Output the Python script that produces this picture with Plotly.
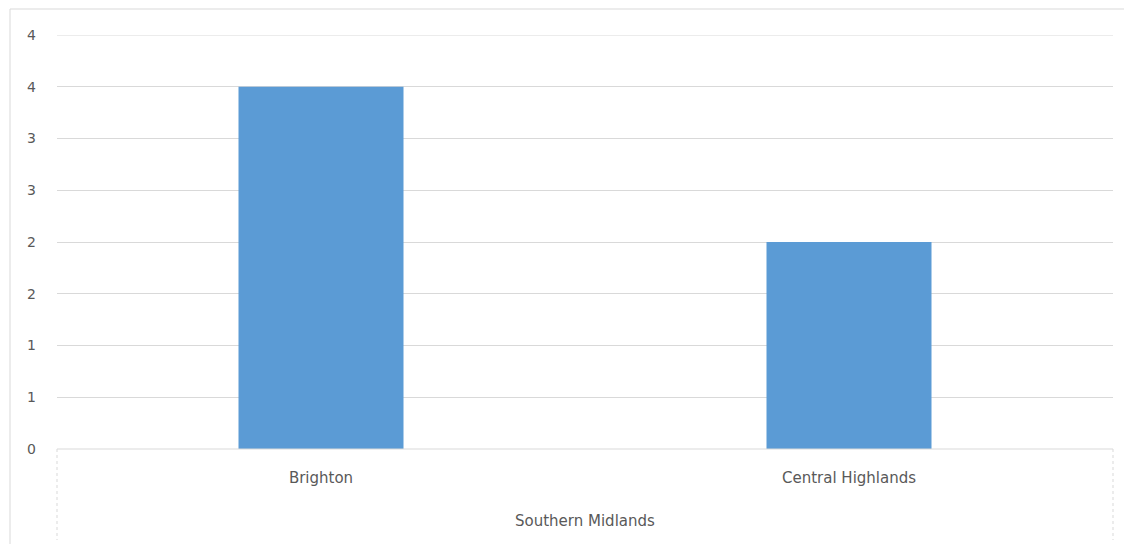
import plotly.graph_objects as go

group_label = "Southern Midlands"
categories = ["Brighton", "Central Highlands"]
values = [3.5, 2.0]
y_tickvals = [0, 0.5, 1, 1.5, 2, 2.5, 3, 3.5, 4]
y_ticktext = ["0", "1", "1", "2", "2", "3", "3", "4", "4"]

OFF = 8  # default page margin
W, H = 1132 - OFF, 544 - OFF
L, T = 57 - OFF, 35 - OFF
R = W - (1113 - OFF)
B = H - (449 - OFF)
pw, ph = W - L - R, H - T - B

def px(xp):
    return (xp - OFF - L) / pw

def py(yp):
    return (H - B - (yp - OFF)) / ph

fig = go.Figure()
fig.add_trace(go.Bar(
    x=categories, y=values,
    marker=dict(color="#5b9bd5", line=dict(width=0)),
    width=0.3125,
))

grey = "#d9d9d9"
font_family = "DejaVu Sans, Verdana, sans-serif"
shapes = [
    dict(type="line", xref="paper", yref="paper", x0=px(10), x1=px(1140), y0=py(9), y1=py(9),
         line=dict(color=grey, width=1)),
    dict(type="line", xref="paper", yref="paper", x0=px(10), x1=px(10), y0=py(9), y1=py(548),
         line=dict(color=grey, width=1)),
    dict(type="line", xref="paper", yref="paper", x0=0, x1=0, y0=0, y1=py(540),
         line=dict(color=grey, width=1, dash="dot")),
    dict(type="line", xref="paper", yref="paper", x0=1, x1=1, y0=0, y1=py(540),
         line=dict(color=grey, width=1, dash="dot")),
    dict(type="line", xref="paper", yref="paper", x0=0, x1=1, y0=0, y1=0,
         line=dict(color=grey, width=1)),
    dict(type="line", xref="paper", yref="y", x0=0, x1=1, y0=y_tickvals[-1], y1=y_tickvals[-1],
         line=dict(color=grey, width=1), layer="below"),
]

fig.update_layout(
    width=W, height=H,
    margin=dict(l=L, r=R, t=T, b=B),
    paper_bgcolor="white", plot_bgcolor="white",
    showlegend=False,
    font=dict(family=font_family, size=14, color="#595959"),
    shapes=shapes,
    annotations=[dict(
        text=group_label, xref="paper", yref="paper", x=0.5, y=py(521),
        xanchor="center", yanchor="middle", showarrow=False,
        font=dict(family=font_family, size=15, color="#595959"),
    )],
)
fig.update_yaxes(
    range=[0, 4], tickvals=y_tickvals, ticktext=y_ticktext,
    showgrid=True, gridcolor=grey, gridwidth=1, zeroline=False,
    showline=False, ticks="", ticklabelstandoff=20,
    tickfont=dict(family=font_family, size=14, color="#595959"),
)
fig.update_xaxes(
    showline=False, ticks="", showgrid=False,
    ticklabelstandoff=18,
    tickfont=dict(family=font_family, size=15, color="#595959"),
)

fig.write_html("out.html")
